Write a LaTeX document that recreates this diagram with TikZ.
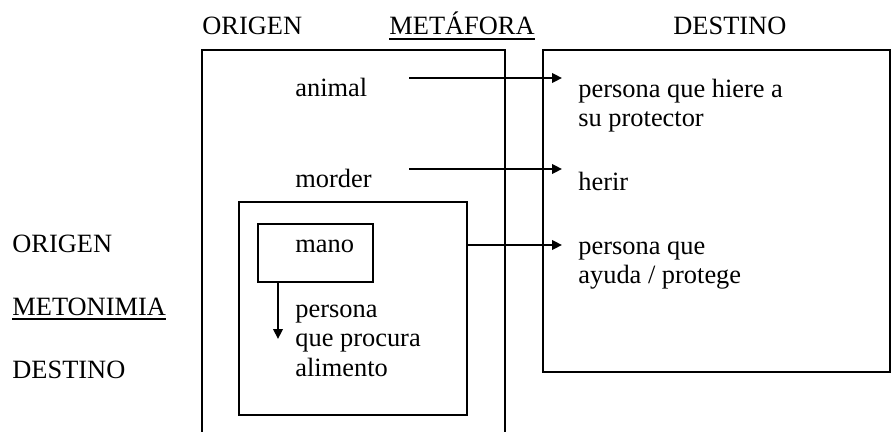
\documentclass[tikz,border=0pt]{standalone}
\usepackage{fontspec}
\setmainfont{Liberation Serif}
\usetikzlibrary{positioning,arrows.meta}
\tikzstyle{lbl} = [inner sep=0pt, anchor=base west, align=left, font=\fontsize{13.2}{14.6}\selectfont]
\tikzstyle{frame} = [line width=0.9pt]
\tikzstyle{link} = [line width=0.9pt, -{Triangle[length=5pt,width=4.8pt]}]
\tikzstyle{uline} = [line width=1pt]

\begin{document}
\begin{tikzpicture}[x=0.5pt,y=-0.5pt]
 \useasboundingbox (0,0) rectangle (892,432);
 \clip (0,0) rectangle (892,432);

    % Headings
    \node[lbl] (orig) at (202,35) {ORIGEN};
    \node[lbl] (meta) at (389,35) {METÁFORA};
    \node[lbl] (dest) at (673,35) {DESTINO};
    \draw[uline] ([yshift=-2pt]meta.base west) -- ([yshift=-2pt]meta.base east);

    % Draw the source and target domains
    \draw[frame] (202,50) rectangle (505,445);
    \draw[frame] (543,50) rectangle (890,372);
    \draw[frame] (239,202) rectangle (467,415);
    \draw[frame] (258,224) rectangle (373,282);

    % Source side (multi-line nodes sit on their last line)
    \node[lbl] (animal) at (295,97) {animal};
    \node[lbl] (morder) at (295,188) {morder};
    \node[lbl] (mano) at (295,253) {mano};
    \node[lbl] (alim) at (295,376) {persona\\que procura\\alimento};

    % Target side
    \node[lbl] (hiere) at (578,127) {persona que hiere a\\su protector};
    \node[lbl] (herir) at (578,191) {herir};
    \node[lbl] (ayuda) at (578,284) {persona que\\ayuda / protege};

    % Metonymy labels
    \node[lbl] (morig) at (12,253) {ORIGEN};
    \node[lbl] (meto) at (12,315) {METONIMIA};
    \node[lbl] (mdest) at (12,378) {DESTINO};
    \draw[uline] ([yshift=-2pt]meto.base west) -- ([yshift=-2pt]meto.base east);

    % Mapping arrows
    \coordinate (a1) at (409,78);  \coordinate (a2) at (562,78);
    \coordinate (b1) at (409,169); \coordinate (b2) at (562,169);
    \coordinate (c1) at (467,245); \coordinate (c2) at (562,245);
    \coordinate (d1) at (278,282); \coordinate (d2) at (278,339);
    \draw[link] (a1) -- (a2);
    \draw[link] (b1) -- (b2);
    \draw[link] (c1) -- (c2);
    \draw[link] (d1) -- (d2);

\end{tikzpicture}
\end{document}
